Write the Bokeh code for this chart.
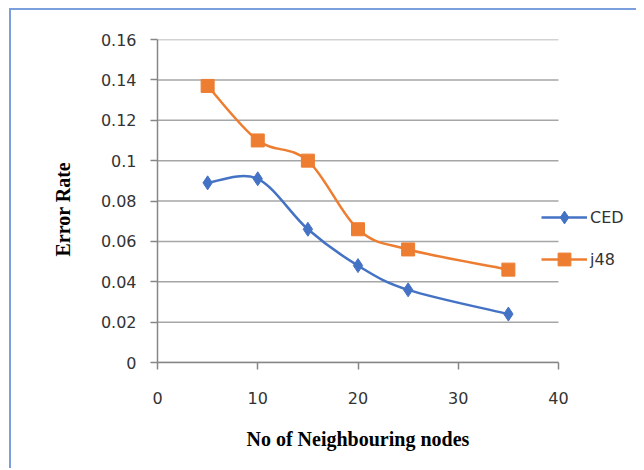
from bokeh.plotting import figure
from bokeh.models import FixedTicker, Legend, LegendItem, Title
from bokeh.embed import file_html
from bokeh.resources import INLINE

# ---- data ----
x_nodes = [5, 10, 15, 20, 25, 35]
ced = [0.089, 0.091, 0.066, 0.048, 0.036, 0.024]
j48 = [0.137, 0.110, 0.100, 0.066, 0.056, 0.046]
series_names = ["CED", "j48"]
x_ticks = [0, 10, 20, 30, 40]
y_ticks = [0, 0.02, 0.04, 0.06, 0.08, 0.1, 0.12, 0.14, 0.16]
y_tick_labels = ["0", "0.02", "0.04", "0.06", "0.08", "0.1", "0.12", "0.14", "0.16"]
x_title = "No of Neighbouring nodes"
y_title = "Error Rate"

BLUE = "#4472C4"
ORANGE = "#ED7D31"
GRID = "#a6a6a6"
AXIS = "#868686"
TICK_FONT = "DejaVu Sans"
TITLE_FONT = "Liberation Serif"

X_MIN, X_MAX = x_ticks[0], x_ticks[-1]
FRAME_W = 475
PX_PER_UNIT = 401 / (X_MAX - X_MIN)
x_end = X_MIN + FRAME_W / PX_PER_UNIT   # frame extends right to host the legend

p = figure(width=636, height=462, output_backend="svg", toolbar_location=None,
           x_range=(X_MIN, x_end), y_range=(y_ticks[0], y_ticks[-1]),
           frame_width=FRAME_W, frame_height=323,
           min_border_left=157, min_border_top=39, min_border_right=4, min_border_bottom=100)
p.styles = {"background-color": "white",
            "box-shadow": "inset 9px 8px 0 0 white, inset 11px 10px 0 0 #7a9fdc"}
p.outline_line_color = None
p.background_fill_color = "white"
p.border_fill_alpha = 0

p.xgrid.grid_line_color = None
p.ygrid.grid_line_color = None
# horizontal gridlines only across the plotted x span
p.segment(x0=[X_MIN] * len(y_ticks), x1=[X_MAX] * len(y_ticks), y0=y_ticks, y1=y_ticks,
          line_color=GRID, line_width=1.5)

p.xaxis.ticker = FixedTicker(ticks=x_ticks)
p.yaxis.ticker = FixedTicker(ticks=y_ticks)
p.yaxis.major_label_overrides = dict(zip(y_ticks, y_tick_labels))
p.xaxis.bounds = (X_MIN, X_MAX)

for ax in (p.xaxis[0], p.yaxis[0]):
    ax.axis_line_color = AXIS
    ax.axis_line_width = 1.5
    ax.major_tick_line_color = AXIS
    ax.major_tick_line_width = 1.5
    ax.major_tick_out = 7
    ax.major_tick_in = 0
    ax.minor_tick_line_color = None
    ax.major_label_text_font = TICK_FONT
    ax.major_label_text_font_size = "16px"
    ax.major_label_text_color = "#333333"

p.xaxis.major_label_standoff = 22
p.yaxis.major_label_standoff = 14

title_style = dict(text_font=TITLE_FONT, text_font_style="bold",
                   text_font_size="20px", text_color="black")
# x-axis title, centred under the 0..40 span (frame is wider to hold the legend)
xt = Title(text=x_title, align="left", offset=89, standoff=38, **title_style)
p.add_layout(xt, "below")
# y-axis title
yt = Title(text=y_title, align="left", offset=106, standoff=48, **title_style)
p.add_layout(yt, "left")


def smooth(xs, ys):
    """Catmull-Rom style Bezier control points (Excel-like smoothed line)."""
    n = len(xs)
    P = list(zip(xs, ys))
    x0, y0, x1, y1, cx0, cy0, cx1, cy1 = ([] for _ in range(8))
    for i in range(n - 1):
        pm = P[i - 1] if i > 0 else P[i]
        pa = P[i]
        pb = P[i + 1]
        pp = P[i + 2] if i + 2 < n else P[i + 1]
        x0.append(pa[0]); y0.append(pa[1])
        x1.append(pb[0]); y1.append(pb[1])
        cx0.append(pa[0] + (pb[0] - pm[0]) / 6); cy0.append(pa[1] + (pb[1] - pm[1]) / 6)
        cx1.append(pb[0] - (pp[0] - pa[0]) / 6); cy1.append(pb[1] - (pp[1] - pa[1]) / 6)
    return dict(x0=x0, y0=y0, x1=x1, y1=y1, cx0=cx0, cy0=cy0, cx1=cx1, cy1=cy1)


items = []
for name, ys, color, marker, size in [
    (series_names[0], ced, BLUE, "diamond", 14),
    (series_names[1], j48, ORANGE, "square", 13),
]:
    p.bezier(**smooth(x_nodes, ys), line_color=color, line_width=2.5)
    sc = p.scatter(x_nodes, ys, marker=marker, size=size,
                   fill_color=color, line_color=color)
    # single-point line: draws nothing in the plot, only the legend stroke
    ln = p.line(x=x_nodes[:1], y=ys[:1], line_color=color, line_width=2.5)
    items.append(LegendItem(label=name, renderers=[ln, sc]))

legend = Legend(items=items, location=(384, 87), orientation="vertical",
                glyph_width=46, glyph_height=32, label_height=32, spacing=10,
                label_standoff=3, padding=0, margin=0,
                border_line_color=None, background_fill_alpha=0,
                label_text_font=TICK_FONT, label_text_font_size="16px",
                label_text_color="#333333")
p.add_layout(legend, "center")

open("out.html", "w").write(file_html(p, INLINE))
